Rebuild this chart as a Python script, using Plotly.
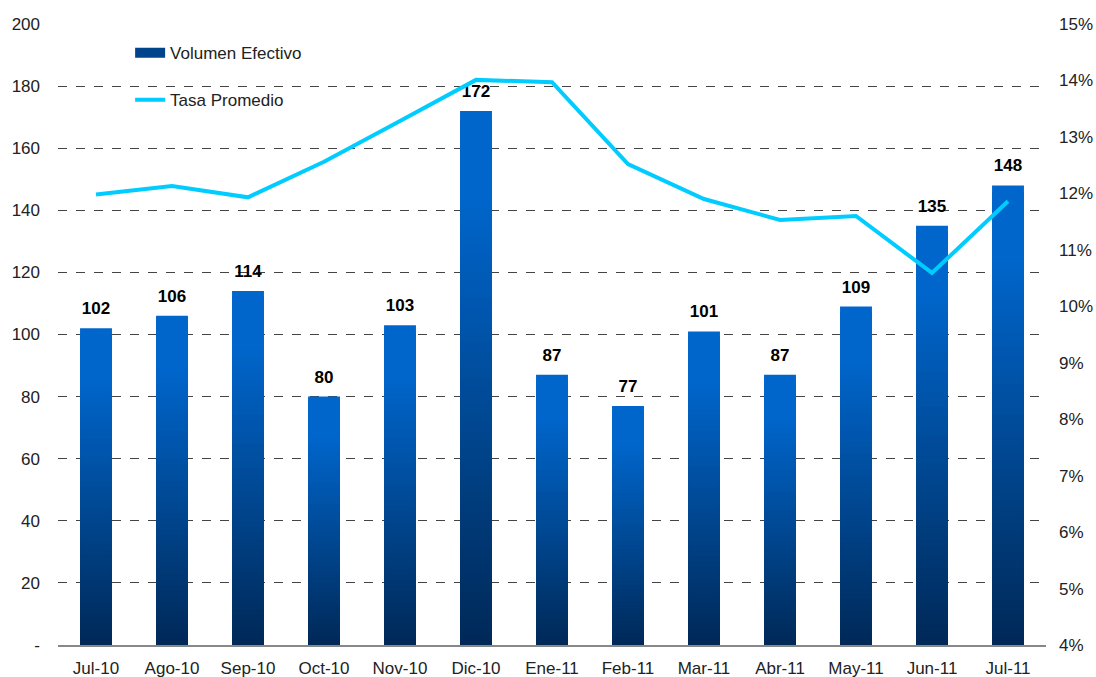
import plotly.graph_objects as go

categories = ["Jul-10", "Ago-10", "Sep-10", "Oct-10", "Nov-10", "Dic-10", "Ene-11",
              "Feb-11", "Mar-11", "Abr-11", "May-11", "Jun-11", "Jul-11"]
volumen = [102, 106, 114, 80, 103, 172, 87, 77, 101, 87, 109, 135, 148]
tasa = [11.98, 12.13, 11.93, 12.56, 13.28, 14.01, 13.97, 12.52, 11.90, 11.53, 11.60, 10.59, 11.86]
left_ticks = [0, 20, 40, 60, 80, 100, 120, 140, 160, 180, 200]
left_ticktext = ["-", "20", "40", "60", "80", "100", "120", "140", "160", "180", "200"]
right_ticks = list(range(4, 16))

FONT = "Liberation Sans, Arial, sans-serif"
top_rgb = (0, 102, 204)
bot_rgb = (0, 40, 86)

def grad_color(f):
    t = min(f / 0.85, 1.0)
    c = [round(b + (a - b) * t) for a, b in zip(top_rgb, bot_rgb)]
    return f"rgb({c[0]},{c[1]},{c[2]})"

fig = go.Figure()
N = 60
for k in range(N):
    frac = 1 - k / N
    fig.add_trace(go.Bar(
        x=categories, y=[v * frac for v in volumen], width=0.42,
        marker=dict(color=grad_color(frac), line=dict(width=0)),
        showlegend=False, hoverinfo="skip",
    ))

# value labels
fig.add_trace(go.Scatter(
    x=categories, y=volumen, mode="markers+text", text=[str(v) for v in volumen],
    marker=dict(size=14, opacity=0),
    textposition="top center", textfont=dict(family=FONT, size=17, color="black", weight="bold"),
    showlegend=False, hoverinfo="skip",
))

# legend proxy for bars
fig.add_trace(go.Scatter(
    x=[None], y=[None], mode="lines", name="Volumen Efectivo",
    line=dict(color="#00458C", width=11), legendgroup="a",
))

fig.add_trace(go.Scatter(
    x=categories, y=tasa, mode="lines", name="Tasa Promedio", yaxis="y2",
    line=dict(color="#00CCFF", width=4), legendgroup="b",
))

fig.update_layout(
    width=1096, height=677,
    margin=dict(l=58, r=50, t=24, b=32, autoexpand=False),
    plot_bgcolor="white", paper_bgcolor="white",
    barmode="overlay",
    font=dict(family=FONT, size=17, color="#222"),
    showlegend=True,
    legend=dict(x=0.073, y=0.982, xanchor="left", yanchor="top",
                bgcolor="rgba(0,0,0,0)", tracegroupgap=22,
                font=dict(family=FONT, size=17, color="#222"),
                itemwidth=30),
    xaxis=dict(type="category", range=[-0.5, 12.5], showgrid=False,
               showline=True, linecolor="#888", linewidth=2, automargin=False,
               ticks="", ticklabelstandoff=7,
               tickfont=dict(family=FONT, size=17, color="#222")),
    yaxis=dict(range=[0, 200], tickvals=left_ticks, ticktext=left_ticktext,
               showgrid=True, gridcolor="#444", griddash="dash", gridwidth=1,
               zeroline=False, showline=False, ticks="", ticklabelstandoff=17,
               automargin=False,
               tickfont=dict(family=FONT, size=17, color="#222")),
    yaxis2=dict(range=[4, 15], tickvals=right_ticks,
                ticktext=[f"{t}%" for t in right_ticks],
                overlaying="y", side="right", showgrid=False, zeroline=False,
                showline=False, ticks="", ticklabelstandoff=12, automargin=False,
                tickfont=dict(family=FONT, size=17, color="#222")),
)

fig.write_html("out.html", config={"displayModeBar": False},
               post_script="document.body.style.margin='0';document.body.style.overflow='hidden';")
